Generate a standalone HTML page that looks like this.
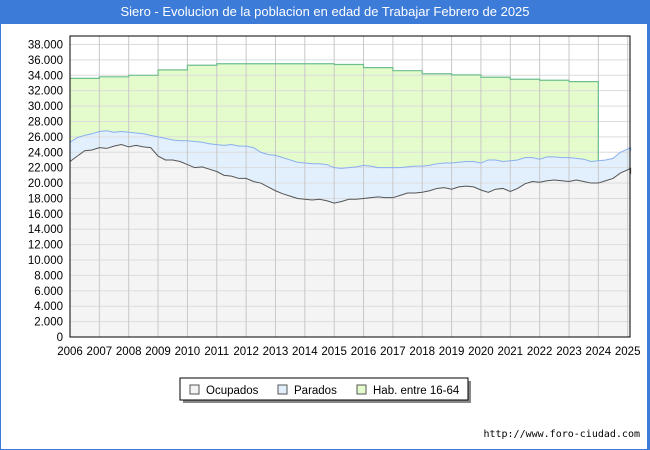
<!DOCTYPE html>
<html><head><meta charset="utf-8"><style>
body{margin:0;width:650px;height:450px;background:#fff;font-family:"Liberation Sans",sans-serif;overflow:hidden;position:relative}
#title{position:absolute;left:0;top:0;width:650px;height:24px;background:#3c7bd8;color:#fff;font-size:13px;text-align:center;line-height:24px}
#frame{position:absolute;left:0;top:0;width:646px;height:448px;border:1px solid #3c7bd8;border-right:3px solid #3c7bd8}
</style></head><body>
<div id="frame"></div>
<div id="title">Siero - Evolucion de la poblacion en edad de Trabajar Febrero de 2025</div>
<svg id="chart" width="650" height="450" style="position:absolute;left:0;top:0"></svg>
<script>
const yTicks=[0,2000,4000,6000,8000,10000,12000,14000,16000,18000,20000,22000,24000,26000,28000,30000,32000,34000,36000,38000];
const years=[2006,2007,2008,2009,2010,2011,2012,2013,2014,2015,2016,2017,2018,2019,2020,2021,2022,2023,2024,2025];
const habYears=[2006,2007,2008,2009,2010,2011,2012,2013,2014,2015,2016,2017,2018,2019,2020,2021,2022,2023];
const habValues=[33600,33800,34000,34700,35300,35500,35500,35500,35500,35400,35000,34600,34200,34050,33750,33490,33360,33180];
const ocupados=[22.8,23.5,24.2,24.3,24.6,24.5,24.8,25.0,24.7,24.9,24.7,24.6,23.5,23.0,23.0,22.8,22.4,22.0,22.1,21.8,21.5,21.0,20.9,20.6,20.6,20.2,20.0,19.5,19.0,18.6,18.3,18.0,17.9,17.8,17.9,17.7,17.4,17.6,17.9,17.9,18.0,18.1,18.2,18.1,18.1,18.4,18.7,18.7,18.8,19.0,19.3,19.4,19.2,19.5,19.6,19.5,19.1,18.8,19.2,19.3,18.9,19.3,19.9,20.2,20.1,20.3,20.4,20.3,20.2,20.4,20.2,20.0,20.0,20.3,20.6,21.3,21.9,21.2];
const total=[25.3,25.9,26.2,26.4,26.7,26.8,26.6,26.7,26.6,26.5,26.4,26.2,26.0,25.8,25.6,25.5,25.5,25.4,25.3,25.1,25.0,24.9,25.0,24.8,24.8,24.6,24.0,23.7,23.6,23.3,23.0,22.7,22.6,22.5,22.5,22.4,22.0,21.9,22.0,22.1,22.3,22.2,22.0,22.0,22.0,22.0,22.1,22.2,22.2,22.3,22.5,22.6,22.6,22.7,22.8,22.8,22.6,23.0,23.0,22.8,22.9,23.0,23.3,23.3,23.1,23.4,23.4,23.3,23.3,23.2,23.1,22.8,22.9,23.0,23.2,24.0,24.6,24.2];
const NS="http://www.w3.org/2000/svg",svg=document.getElementById('chart');
const X0=70,X1=630,Y0=337,Y38=44.5;
const x=t=>X0+(t-2006)*(627.7-70)/19;
const y=v=>Y0-v*(Y0-Y38)/38000;
const tAt=i=>i<76?2006+i*0.25:2025.1;
function mk(tag,attrs,name){const e=document.createElementNS(NS,tag);for(const k in attrs)e.setAttribute(k,attrs[k]);


svg.appendChild(e);return e;}
mk('rect',{x:X0,y:36,width:X1-X0,height:Y0-36,fill:'#fff'},'plot-area');
let hp=`M${x(2006)},${y(0)}`;
habValues.forEach((v,i)=>{hp+=` L${x(habYears[i])},${y(v)} L${x(habYears[i]+1)},${y(v)}`;});
hp+=` L${x(2024)},${y(0)}Z`;
mk('path',{d:hp,fill:'#e4fccc',stroke:'none'},'hab-area');
let tp='',op='';
total.forEach((v,i)=>{tp+=(i?' L':'M')+x(tAt(i))+','+y(v*1000);});
ocupados.forEach((v,i)=>{op+=(i?' L':'M')+x(tAt(i))+','+y(v*1000);});
mk('path',{d:tp+` L${x(tAt(total.length-1))},${y(0)} L${x(2006)},${y(0)}Z`,fill:'#e2f0fe'},'parados-area');
mk('path',{d:op+` L${x(tAt(ocupados.length-1))},${y(0)} L${x(2006)},${y(0)}Z`,fill:'#f4f4f4'},'ocupados-area');
yTicks.forEach(v=>{mk('line',{x1:X0,x2:X1,y1:y(v),y2:y(v),stroke:'#dcdcdc','stroke-width':1},'y-gridline');
const t=mk('text',{x:63,y:y(v)+4,'text-anchor':'end','font-size':11.5,fill:'#000'},'y-tick-label');t.textContent=v.toLocaleString('de-DE');});
years.forEach(yr=>{mk('line',{x1:x(yr),x2:x(yr),y1:36,y2:Y0,stroke:'#c8c8c8','stroke-width':1},'x-gridline');
const t=mk('text',{x:x(yr),y:355,'text-anchor':'middle','font-size':11.5,fill:'#000'},'x-tick-label');t.textContent=yr;});
let hl=`M${x(2006)},${y(habValues[0])}`;
habValues.forEach((v,i)=>{hl+=` L${x(habYears[i])},${y(v)} L${x(habYears[i]+1)},${y(v)}`;});
hl+=` L${x(2024)},${y(total[72]*1000)}`;
mk('path',{d:hl,fill:'none',stroke:'#6fbf8e','stroke-width':1.2},'hab-line');
mk('path',{d:tp,fill:'none',stroke:'#8aaef0','stroke-width':1},'parados-line');
mk('path',{d:op,fill:'none',stroke:'#555','stroke-width':1},'ocupados-line');
mk('rect',{x:X0,y:36,width:X1-X0,height:Y0-36,fill:'none',stroke:'#000','stroke-width':1},'plot-border');
mk('rect',{x:183,y:381,width:288,height:22,fill:'#888'},'legend-shadow');
mk('rect',{x:180,y:378,width:288,height:22,fill:'#fff',stroke:'#000','stroke-width':1},'legend-box');
[['Ocupados','#f4f4f4',190],['Parados','#e2f0fe',278],['Hab. entre 16-64','#e4fccc',357]].forEach(([n,c,lx])=>{
mk('rect',{x:lx,y:385,width:9,height:9,fill:c,stroke:'#555'},'legend-swatch');
const t=mk('text',{x:lx+16,y:394,'font-size':11.5,fill:'#000'},'legend-entry');t.textContent=n;});
const f=mk('text',{x:640,y:437,'text-anchor':'end','font-size':10,fill:'#000','font-family':'"DejaVu Sans Mono",monospace'},'source-url');f.textContent='http://www.foro-ciudad.com';
</script>
</body></html>
